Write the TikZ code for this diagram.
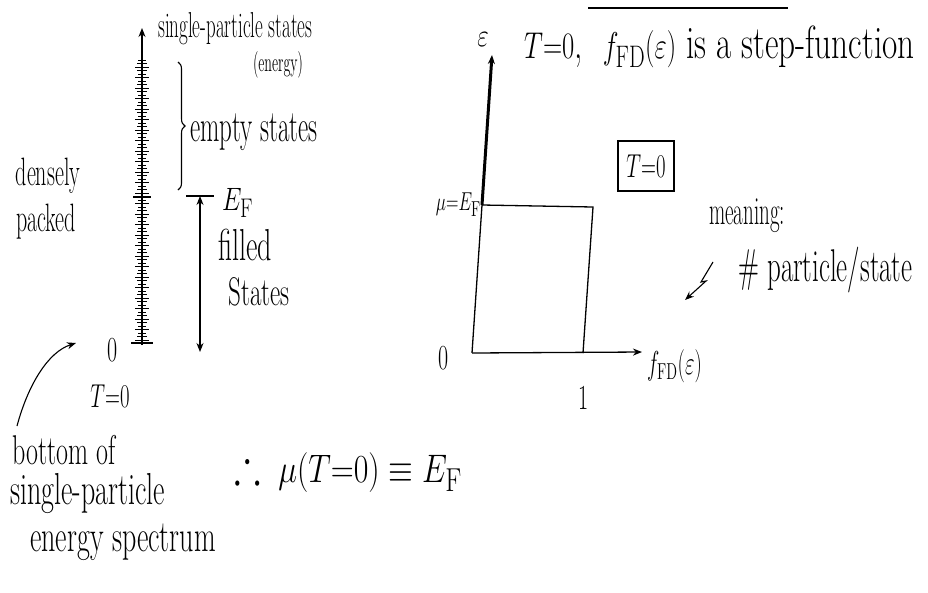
\documentclass[tikz,border=0pt]{standalone}
\usepackage{amssymb}
\usepackage{graphicx}
\usetikzlibrary{arrows.meta,decorations.pathreplacing}
\newcommand\tallt[2][1.6]{\scalebox{1}[#1]{#2}}
\newcommand\tallxy[3]{\scalebox{#1}[#2]{#3}}
\tikzset{
  lbl/.style={inner sep=0pt, font=\fontsize{#1}{#1}\selectfont},
  lbl/.default=20,
  axisline/.style={line width=1.3pt},
  tip/.style={-{Stealth[length=9pt,width=7pt]}},
}
\begin{document}
\begin{tikzpicture}[x=1pt,y=-1pt]
\useasboundingbox (0,0) rectangle (928,592);
% ---------- left: spectrum ----------
\coordinate (sb) at (142,345);
\coordinate (st) at (142,28);
\draw[axisline,tip] (sb) -- (st);
\foreach \y [count=\i] in {60,63.5,...,340} {
  \pgfmathsetmacro\w{mod(\i,3)==0 ? 7 : (mod(\i,2)==0 ? 5 : 4)}
  \draw[line width=0.9pt] (142-\w,\y) -- (142+\w,\y);
}
\draw[line width=2.2pt] (131,343) -- (153,343);
\draw[line width=1.2pt] (133,197) -- (151,197);
\node[lbl=19, anchor=west] (sps) at (158,29) {\tallt[1.9]{single-particle states}};
\node[lbl=14] (energy) at (278,65) {\tallt[1.9]{(energy)}};
\coordinate (brT) at (178,62);
\coordinate (brB) at (178,190);
\draw[line width=1.1pt, decorate, decoration={brace, amplitude=7pt}] (brT) -- (brB);
\node[lbl=25, anchor=west] (empty) at (190,132) {\tallt[1.8]{empty states}};
\node[lbl=22] (dense) at (48,176) {\tallt[1.8]{densely}};
\node[lbl=22] (packed) at (46,222) {\tallt[1.8]{packed}};
% E_F double arrow
\coordinate (efT) at (200,196);
\coordinate (efB) at (200,352);
\draw[line width=1.1pt, {Stealth[length=9pt,width=7pt]}-{Stealth[length=9pt,width=7pt]}] (efT) -- (efB);
\draw[line width=1.1pt] (186,196) -- (214,196);
\node[lbl=30, anchor=west] (EF) at (222,203) {\tallt[1.3]{$E_{\mathrm{F}}$}};
\node[lbl=28] (filled) at (245,245) {\tallt{filled}};
\node[lbl=25] (states) at (259,292) {\tallt{States}};
\node[lbl=22] (zero) at (113,350) {\tallt{0}};
\node[lbl=22] (Tzero) at (110,396) {\tallt{$T{=}0$}};
\node[lbl=26, anchor=west] (bottom) at (12,450) {\tallt{bottom of}};
\node[lbl=28, anchor=west] (spart) at (10,494) {\tallt{single-particle}};
\node[lbl=28, anchor=west] (espec) at (30,542) {\tallt{energy spectrum}};
\coordinate (caS) at (17,426);
\coordinate (caE) at (76,343);
\draw[line width=1.1pt, tip] (caS) .. controls (28,385) and (48,352) .. (caE);
\node[lbl=31] (concl) at (348,470) {\tallxy{1.28}{1.6}{$\therefore\;\mu(T{=}0)\equiv E_{\mathrm{F}}$}};
% ---------- right: graph ----------
\coordinate (O) at (472,353);
\coordinate (mu) at (482,205);
\coordinate (etip) at (492,55);
\coordinate (boxTR) at (593,207);
\coordinate (one) at (583,353);
\coordinate (xtip) at (642,352);
\draw[axisline] (O) -- (mu) -- (boxTR) -- (one);
\draw[line width=3pt, tip] (mu) -- (etip);
\draw[axisline, tip] (O) -- (xtip);
\node[lbl=26] (eps) at (483,40) {\tallt[1.3]{$\varepsilon$}};
\node[lbl=22] (ozero) at (444,358) {\tallt{0}};
\node[lbl=22] (onelab) at (584,398) {\tallt{1}};
\node[lbl=20, anchor=west] (fx) at (647,366) {\tallt{$f_{\mathrm{FD}}(\varepsilon)$}};
\node[lbl=19, anchor=east] (mulab) at (481,205) {\tallt[1.5]{$\mu{=}E_{\mathrm{F}}$}};
\node[lbl=31, anchor=west] (title) at (524,47) {\tallxy{1.07}{1.5}{$T{=}0$,\ \ $f_{\mathrm{FD}}(\varepsilon)$ is a step-function}};
\node[lbl=22, draw, line width=1.2pt, minimum width=56pt, minimum height=50pt] (tbox) at (646,166) {\tallt{$T{=}0$}};
\node[lbl=21] (meaning) at (747,216) {\tallt[1.9]{meaning:}};
\node[lbl=27, anchor=west] (pps) at (738,270) {\tallt[1.7]{\# particle/state}};
\coordinate (sqS) at (713,262);
\coordinate (sqE) at (685,300);
\draw[line width=1.1pt, tip] (sqS) -- (701,282) -- (706,281) -- (sqE);
% clipped underline at top
\coordinate (ulL) at (588,8);
\coordinate (ulR) at (788,8);
\draw[line width=1.5pt] (ulL) -- (ulR);
\end{tikzpicture}
\end{document}
